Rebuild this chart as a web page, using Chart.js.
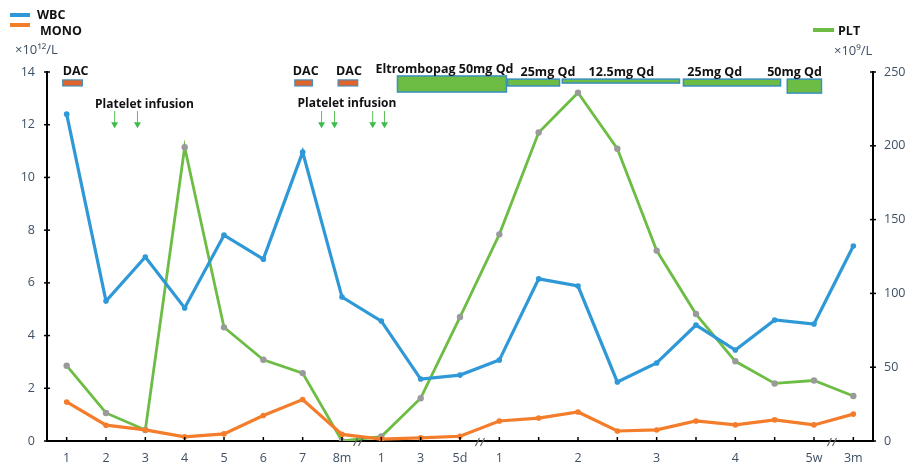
<!DOCTYPE html>
<html>
<head>
<meta charset="utf-8">
<script src="https://cdn.jsdelivr.net/npm/chart.js@4.4.1/dist/chart.umd.min.js"></script>
<style>
html,body{margin:0;padding:0;background:#fff;}
#wrap{width:909px;height:464px;position:relative;}
</style>
</head>
<body>
<div id="wrap"><canvas id="c" width="909" height="464"></canvas></div>
<script>
// ---- data ----
const categories = ['1','2','3','4','5','6','7','8m','1','3','5d','1','','2','','3','','4','','5w','3m'];
const wbc  = [12.4,5.31,6.98,5.05,7.81,6.9,10.96,5.46,4.55,2.35,2.5,3.07,6.15,5.88,2.24,2.96,4.4,3.45,4.59,4.44,7.4];
const mono = [1.48,0.6,0.42,0.16,0.27,0.97,1.57,0.25,0.07,0.12,0.18,0.76,0.87,1.1,0.38,0.42,0.76,0.61,0.8,0.61,1.02];
const plt  = [51,19,7.5,199,77,55,46,0,3,29,84,140,209,236,198,129,86,54,39,41,30.5];
const leftTicks = [0,2,4,6,8,10,12,14];
const rightTicks = [0,50,100,150,200,250];

// ---- annotations (x in category units, y in left-axis units) ----
const dacBoxes = [[-0.1,0.4],[5.8,6.25],[6.9,7.4]];
const dacLabels = [[-0.1,'DAC'],[5.75,'DAC'],[6.85,'DAC']];
const eltBoxes = [
  [8.41,11.18,13.85,13.24],
  [11.21,12.53,13.73,13.47],
  [12.6,15.58,13.73,13.58],
  [15.68,18.15,13.73,13.47],
  [18.32,19.19,13.73,13.2]
];
const eltLabels = [[7.85,14.11,'Eltrombopag 50mg Qd'],[11.54,14.0,'25mg Qd'],[13.27,14.0,'12.5mg Qd'],[15.78,14.0,'25mg Qd'],[17.81,14.0,'50mg Qd']];
const infusionLabels = [[0.72,12.75,'Platelet infusion'],[5.87,12.8,'Platelet infusion']];
const arrowsX = [1.22,1.8,6.48,6.81,7.78,8.08];
const breaks = [7.42,10.52,19.47];

const BLUE='#2f98d6', ORANGE='#f47d2b', GREEN='#6dbd45';
const TXT='#3e5064';
const BOLD='bold 12.5px "Open Sans", "DejaVu Sans", sans-serif';
const BOLD_S='bold 12px "Open Sans", "DejaVu Sans", sans-serif';

const overlay = {
  id:'overlay',
  afterDraw(chart){
    const ctx=chart.ctx, x=chart.scales.x, y=chart.scales.y, y1=chart.scales.y1;
    const ca=chart.chartArea;
    ctx.save();
    // tick marks
    ctx.strokeStyle='#000'; ctx.lineWidth=1.5;
    leftTicks.forEach(v=>{const py=y.getPixelForValue(v); ctx.beginPath(); ctx.moveTo(ca.left-3,py); ctx.lineTo(ca.left+3,py); ctx.stroke();});
    rightTicks.forEach(v=>{const py=y1.getPixelForValue(v); ctx.beginPath(); ctx.moveTo(ca.right-3,py); ctx.lineTo(ca.right+3,py); ctx.stroke();});
    categories.forEach((c,i)=>{const px=x.getPixelForValue(i); ctx.beginPath(); ctx.moveTo(px,ca.bottom); ctx.lineTo(px,ca.bottom-4); ctx.stroke();});
    // breaks
    ctx.strokeStyle='#666'; ctx.lineWidth=1.2;
    breaks.forEach(b=>{const px=x.getPixelForValue(b); [-3,2].forEach(o=>{ctx.beginPath(); ctx.moveTo(px+o-2,ca.bottom+5); ctx.lineTo(px+o+2,ca.bottom-3); ctx.stroke();});});
    // DAC boxes
    ctx.lineWidth=1.2;
    dacBoxes.forEach(b=>{const l=x.getPixelForValue(b[0]), r=x.getPixelForValue(b[1]);
      const t=y.getPixelForValue(13.7), bt=y.getPixelForValue(13.47);
      ctx.fillStyle='#e0632c'; ctx.fillRect(l,t,r-l,bt-t); ctx.strokeStyle='#4a8fb5'; ctx.strokeRect(l,t,r-l,bt-t);});
    eltBoxes.forEach(b=>{const l=x.getPixelForValue(b[0]), r=x.getPixelForValue(b[1]);
      const t=y.getPixelForValue(b[2]), bt=y.getPixelForValue(b[3]);
      ctx.fillStyle=GREEN; ctx.fillRect(l,t,r-l,bt-t); ctx.strokeStyle='#3a8fbd'; ctx.lineWidth=1.5; ctx.strokeRect(l,t,r-l,bt-t);});
    // texts
    ctx.fillStyle='#111'; ctx.font=BOLD; ctx.textBaseline='middle'; ctx.textAlign='left';
    dacLabels.forEach(d=>{ctx.fillText(d[1], x.getPixelForValue(d[0]), y.getPixelForValue(13.7)-8);});
    eltLabels.forEach(d=>{ctx.fillText(d[2], x.getPixelForValue(d[0]), y.getPixelForValue(d[1]));});
    ctx.font=BOLD_S;
    infusionLabels.forEach(d=>{ctx.fillText(d[2], x.getPixelForValue(d[0]), y.getPixelForValue(d[1]));});
    // arrows
    ctx.strokeStyle='#5cc05c'; ctx.fillStyle='#3dbb4d'; ctx.lineWidth=1;
    arrowsX.forEach(a=>{const px=x.getPixelForValue(a), t=y.getPixelForValue(12.52), b=y.getPixelForValue(11.87);
      ctx.beginPath(); ctx.moveTo(px,t); ctx.lineTo(px,b-4); ctx.stroke();
      ctx.beginPath(); ctx.moveTo(px-3.5,b-6); ctx.lineTo(px+3.5,b-6); ctx.lineTo(px,b); ctx.closePath(); ctx.fill();});
    // legends
    ctx.lineWidth=4; ctx.lineCap='butt';
    ctx.strokeStyle=BLUE; ctx.beginPath(); ctx.moveTo(10,15); ctx.lineTo(30,15); ctx.stroke();
    ctx.strokeStyle=ORANGE; ctx.beginPath(); ctx.moveTo(10,25); ctx.lineTo(30,25); ctx.stroke();
    ctx.strokeStyle=GREEN; ctx.beginPath(); ctx.moveTo(813,30); ctx.lineTo(834,30); ctx.stroke();
    ctx.fillStyle='#111'; ctx.font=BOLD;
    ctx.fillText('WBC',37,15); ctx.fillText('MONO',40,31); ctx.fillText('PLT',838,31);
    ctx.fillStyle=TXT; ctx.font='13px "Open Sans", "DejaVu Sans", sans-serif';
    ctx.fillText('×10¹²/L',15,50); ctx.fillText('×10⁹/L',834,51);
    ctx.restore();
  }
};

new Chart(document.getElementById('c'), {
  type:'line',
  data:{
    labels:categories,
    datasets:[
      {label:'WBC',data:wbc,yAxisID:'y',borderColor:BLUE,backgroundColor:BLUE,borderWidth:3.2,pointRadius:2.8,pointBackgroundColor:BLUE,pointBorderWidth:0,tension:0},
      {label:'MONO',data:mono,yAxisID:'y',borderColor:ORANGE,backgroundColor:ORANGE,borderWidth:3.2,pointRadius:2.8,pointBackgroundColor:ORANGE,pointBorderWidth:0,tension:0},
      {label:'PLT',data:plt,yAxisID:'y1',borderColor:GREEN,backgroundColor:'#9a9a9a',borderWidth:2.8,pointRadius:3.2,pointBackgroundColor:'#9a9a9a',pointBorderWidth:0,tension:0}
    ]
  },
  options:{
    responsive:false, animation:false,
    layout:{padding:{left:0,right:0,top:72,bottom:0}},
    plugins:{legend:{display:false},tooltip:{enabled:false}},
    scales:{
      x:{offset:true,
        grid:{display:true,drawOnChartArea:false,drawTicks:false},
        border:{color:'#000',width:2},
        ticks:{autoSkip:false,maxRotation:0,padding:10,color:TXT,font:{size:12.5,family:'"Open Sans", sans-serif'}},
        afterFit(s){s.height=23;}
      },
      y:{position:'left',min:0,max:14,
        grid:{display:true,drawOnChartArea:false,drawTicks:false},
        border:{color:'#000',width:2},
        ticks:{stepSize:2,padding:12,color:TXT,font:{size:12.5,family:'"Open Sans", sans-serif'}},
        afterFit(s){s.width=47;}
      },
      y1:{position:'right',min:0,max:250,
        grid:{display:true,drawOnChartArea:false,drawTicks:false},
        border:{color:'#000',width:2},
        ticks:{stepSize:50,padding:11,color:TXT,font:{size:12.5,family:'"Open Sans", sans-serif'}},
        afterFit(s){s.width=36;}
      }
    }
  },
  plugins:[overlay]
});
</script>
</body>
</html>
